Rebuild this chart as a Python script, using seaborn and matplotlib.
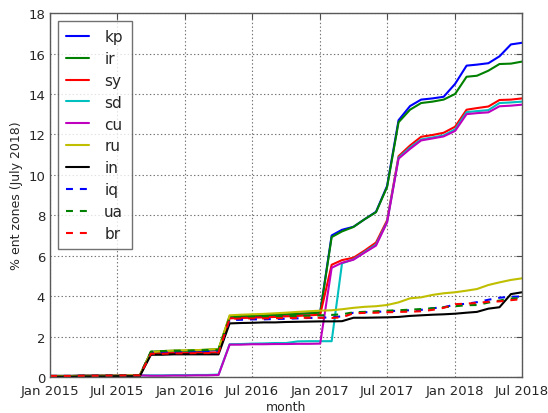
import pandas as pd
import seaborn as sns
import matplotlib.pyplot as plt
import matplotlib.dates as mdates

## data: monthly share of zones, Jan 2015 .. Jul 2018 (43 months)
months = pd.date_range("2015-01-01", periods=43, freq="MS")

early = [0.05, 0.05, 0.05, 0.06, 0.06, 0.07, 0.07, 0.08, 0.08]

kp = early + [1.2, 1.25, 1.25, 1.27, 1.28, 1.3, 1.33,
              2.95, 2.98, 3.0, 3.02, 3.05, 3.08, 3.12, 3.15, 3.2,
              7.0, 7.28, 7.43, 7.8, 8.17, 9.45, 12.7, 13.4, 13.72, 13.78, 13.86,
              14.5, 15.4, 15.45, 15.52, 15.86, 16.45, 16.53]
ir = early + [1.25, 1.28, 1.3, 1.3, 1.32, 1.35, 1.38,
              3.0, 3.02, 3.03, 3.05, 3.08, 3.1, 3.12, 3.15, 3.18,
              6.92, 7.2, 7.42, 7.8, 8.15, 9.4, 12.6, 13.22, 13.55, 13.62, 13.72,
              14.0, 14.85, 14.9, 15.15, 15.48, 15.5, 15.6]
sy = early + [1.15, 1.17, 1.18, 1.18, 1.2, 1.2, 1.22,
              2.9, 2.92, 2.93, 2.95, 2.97, 3.0, 3.02, 3.05, 3.08,
              5.55, 5.78, 5.9, 6.25, 6.65, 7.75, 10.92, 11.45, 11.88, 11.97, 12.08,
              12.38, 13.22, 13.3, 13.38, 13.7, 13.72, 13.78]
sd = early + [0.08, 0.08, 0.09, 0.09, 0.1, 0.1, 0.12,
              1.62, 1.63, 1.65, 1.66, 1.68, 1.68, 1.76, 1.77, 1.77, 1.77,
              5.62, 5.82, 6.18, 6.55, 7.68, 10.85, 11.35, 11.75, 11.85, 11.95,
              12.25, 13.1, 13.15, 13.2, 13.55, 13.58, 13.62]
cu = early + [0.06, 0.06, 0.07, 0.07, 0.08, 0.08, 0.1,
              1.6, 1.6, 1.62, 1.62, 1.63, 1.63, 1.64, 1.64, 1.65,
              5.4, 5.65, 5.8, 6.15, 6.5, 7.65, 10.8, 11.28, 11.7, 11.8, 11.9,
              12.17, 13.0, 13.05, 13.09, 13.39, 13.42, 13.47]
ru = early + [1.22, 1.28, 1.3, 1.32, 1.33, 1.35, 1.38,
              3.05, 3.08, 3.1, 3.12, 3.15, 3.18, 3.22, 3.25, 3.28,
              3.3, 3.35, 3.42, 3.47, 3.5, 3.56, 3.69, 3.89, 3.94, 4.06, 4.14,
              4.19, 4.27, 4.35, 4.55, 4.68, 4.8, 4.88]
in_ = [0.02, 0.02, 0.02, 0.03, 0.03, 0.03, 0.04, 0.04, 0.04] + \
      [1.1, 1.1, 1.12, 1.12, 1.12, 1.12, 1.12,
       2.65, 2.67, 2.68, 2.7, 2.7, 2.72, 2.73, 2.74, 2.75,
       2.75, 2.76, 2.93, 2.93, 2.94, 2.95, 2.97, 3.02, 3.05, 3.08, 3.1,
       3.13, 3.18, 3.22, 3.38, 3.45, 4.1, 4.19]
iq = early + [1.2, 1.22, 1.22, 1.24, 1.25, 1.26, 1.28,
              2.82, 2.83, 2.85, 2.85, 2.87, 2.88, 2.9, 2.92, 2.93,
              2.95, 3.0, 3.18, 3.2, 3.22, 3.25, 3.28, 3.3, 3.32, 3.4, 3.45,
              3.58, 3.62, 3.7, 3.82, 3.92, 3.97, 3.98]
ua = early + [1.25, 1.28, 1.3, 1.3, 1.32, 1.33, 1.35,
              2.95, 2.96, 2.97, 2.98, 3.0, 3.0, 3.02, 3.03, 3.05,
              3.07, 3.1, 3.2, 3.22, 3.25, 3.28, 3.3, 3.33, 3.36, 3.4, 3.45,
              3.5, 3.55, 3.56, 3.68, 3.78, 3.88, 3.9]
br = early + [1.15, 1.15, 1.17, 1.17, 1.18, 1.18, 1.2,
              2.88, 2.89, 2.9, 2.9, 2.91, 2.92, 2.92, 2.93, 2.93,
              2.92, 2.95, 3.15, 3.17, 3.18, 3.2, 3.22, 3.23, 3.25, 3.32, 3.42,
              3.6, 3.63, 3.66, 3.72, 3.74, 3.8, 3.85]

series = [("kp", kp, "b", "-"), ("ir", ir, "g", "-"), ("sy", sy, "r", "-"),
          ("sd", sd, "c", "-"), ("cu", cu, "m", "-"), ("ru", ru, "y", "-"),
          ("in", in_, "k", "-"), ("iq", iq, "b", "--"), ("ua", ua, "g", "--"),
          ("br", br, "r", "--")]

sns.set_style("white")
plt.rcParams['font.family'] = ['DejaVu Sans']
plt.rcParams['lines.scale_dashes'] = False

fig = plt.figure(figsize=(5.48, 4.14), dpi=100)
ax = fig.add_axes([0.0912, 0.087, 0.8614, 0.879])

for name, vals, col, ls in series:
    df = pd.DataFrame({"month": months, "val": vals})
    sns.lineplot(data=df, x="month", y="val", ax=ax, color=col, lw=1.5,
                 label=name, linestyle=(0, (5, 5)) if ls == "--" else "-")

ax.set_xlim(months[0], months[-1])
ax.set_ylim(0, 18)
ax.set_yticks(range(0, 19, 2))
ax.xaxis.set_major_locator(mdates.MonthLocator(bymonth=[1, 7]))
ax.xaxis.set_major_formatter(mdates.DateFormatter("%b %Y"))
ax.tick_params(direction="in", length=4, labelsize=9.5, top=True, right=True,
               color="0.3")
ax.tick_params(axis="x", pad=5)
ax.grid(True, linestyle=":", color="0.45", lw=0.8)
for s in ax.spines.values():
    s.set_color("0.35")
    s.set_linewidth(1.0)

ax.set_xlabel("month", fontsize=9, labelpad=2)
ax.set_ylabel("% ent zones (July 2018)", fontsize=9, labelpad=4)

leg = ax.legend(loc="upper left", fontsize=11, handlelength=1.5,
                handletextpad=1.0, labelspacing=0.45, fancybox=False,
                borderpad=0.55, borderaxespad=0.5)
leg.get_frame().set_edgecolor("0.3")
leg.get_frame().set_linewidth(1.0)

plt.savefig("out.png", dpi=100)
